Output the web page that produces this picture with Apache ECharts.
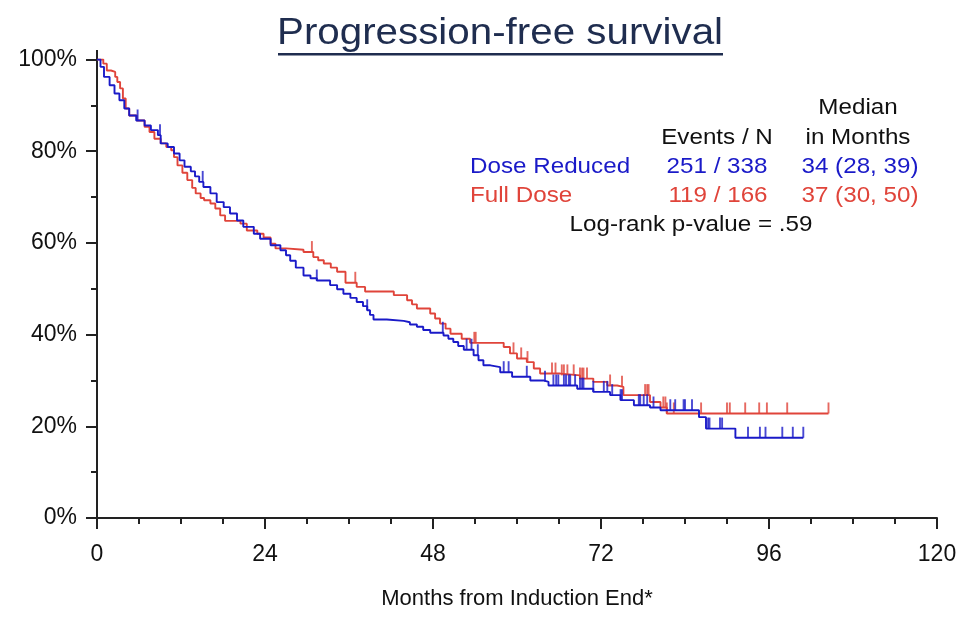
<!DOCTYPE html>
<html>
<head>
<meta charset="utf-8">
<script src="https://cdn.jsdelivr.net/npm/echarts@6/dist/echarts.min.js"></script>
<style>
html,body{margin:0;padding:0;background:#fff;}
#c{width:968px;height:630px;}
</style>
</head>
<body>
<div id="c"></div>
<script>
// ---- data (months, % progression-free) ----
const reducedSteps = [[0,100],[0.5,98.4],[1.0,96.2],[1.8,94.4],[2.5,92.6],[3.2,91.1],[3.9,89.3],[4.6,87.8],[5.6,86.7],[6.8,85.6],[7.7,84.6],[8.7,83.5],[9.1,81.7],[10.1,80.9],[11.0,79.5],[11.8,78.0],[12.5,76.6],[13.4,75.6],[14.0,74.5],[14.6,73.3],[15.2,72.2],[16.2,70.8],[17.1,68.9],[18.1,67.8],[19.0,66.4],[20.0,64.9],[20.9,63.5],[22.4,62.0],[23.3,60.9],[24.8,59.5],[26.2,58.4],[27.0,57.3],[27.6,56.1],[28.4,54.6],[29.5,52.9],[30.5,52.3],[31.4,51.8],[33.3,50.8],[34.3,49.9],[35.2,48.9],[36.2,48.0],[37.1,47.1],[38.0,46.2],[38.6,45.3],[39.0,44.3],[39.5,43.3],[41.4,43.0],[43.8,42.7],[44.7,42.2],[45.7,41.7],[46.6,41.0],[47.6,40.4],[49.5,39.8],[50.2,39.1],[50.9,38.4],[51.6,37.5],[52.4,36.7],[53.8,35.5],[54.5,34.4],[55.2,33.3],[56.2,32.9],[57.6,31.8],[59.3,30.8],[61.9,30.0],[63.8,29.7],[64.5,28.9],[68.6,28.2],[70.9,27.5],[73.3,26.8],[74.8,25.7],[76.7,24.6],[79.0,24.1],[80.5,23.5],[86.0,22.0],[87.0,19.5],[91.2,17.5],[100.9,17.5]];
const fullSteps = [[0,100],[0.9,99.1],[1.4,97.6],[2.0,97.3],[2.6,96.2],[2.9,95.1],[3.3,93.7],[3.7,91.5],[4.1,89.3],[4.6,87.8],[5.7,86.7],[6.8,85.3],[7.5,84.2],[8.2,82.7],[9.1,81.7],[9.9,80.9],[10.6,80.2],[11.0,78.7],[11.5,76.9],[12.2,75.3],[12.9,73.7],[13.6,72.0],[14.1,70.8],[14.8,69.8],[15.3,69.3],[16.2,68.6],[16.9,67.5],[17.6,66.0],[18.3,64.8],[20.5,64.2],[21.4,62.7],[22.9,62.0],[23.8,61.2],[24.8,59.8],[25.5,58.8],[27.0,58.5],[29.5,58.0],[30.9,56.9],[31.6,56.2],[32.4,55.5],[33.4,54.6],[34.3,53.7],[35.5,51.3],[37.1,50.4],[38.3,49.4],[42.4,48.6],[44.3,47.5],[45.0,46.6],[45.7,45.7],[47.6,44.6],[48.3,43.5],[49.0,42.4],[49.8,41.3],[50.5,40.2],[52.1,39.1],[53.3,38.2],[58.1,37.3],[59.0,35.9],[60.0,34.8],[61.4,34.0],[62.4,32.6],[63.3,31.5],[66.2,31.1],[69.0,30.4],[70.9,29.7],[72.9,28.9],[74.3,28.6],[75.2,26.8],[79.0,25.3],[80.5,24.1],[81.4,22.8],[104.5,22.8]];
const reducedCensored = [5.8,9.0,15.1,31.4,38.6,49.4,52.8,53.5,54.4,58.1,58.8,61.4,64.0,65.2,65.6,65.9,66.7,67.0,67.4,67.6,68.3,69.0,69.3,69.5,70.9,72.4,72.9,73.6,74.8,75.0,77.4,77.6,78.1,78.6,79.5,81.9,82.6,83.8,84.0,85.0,87.3,87.5,89.0,89.3,93.0,94.7,95.5,97.9,99.4,100.9];
const fullCensored = [30.7,36.9,53.9,54.1,59.5,60.6,61.5,65.0,65.5,66.4,66.7,67.2,68.1,69.0,69.3,69.5,70.0,73.3,75.0,78.3,78.6,78.8,80.9,81.2,81.4,82.4,86.3,90.0,90.4,92.6,94.6,95.7,98.6,104.5];
const xTicks = [0,24,48,72,96,120];
const yTicks = [0,20,40,60,80,100];
const groupNames = ['Dose Reduced','Full Dose'];
const eventsN = ['251 / 338','119 / 166'];
const medians = ['34 (28, 39)','37 (30, 50)'];
const pValueText = 'Log-rank p-value = .59';
const titleText = 'Progression-free survival';

const BLUE = '#1a1ac8', RED = '#e0443a';
const FONT = '"Liberation Sans", Arial, Helvetica, sans-serif';

function survAt(steps, t){
  let v = steps[0][1];
  for (const s of steps){ if (s[0] <= t + 1e-9) v = s[1]; else break; }
  return v;
}
const reducedMarks = reducedCensored.map(t => [t, survAt(reducedSteps, t)]);
const fullMarks = fullCensored.map(t => [t, survAt(fullSteps, t)]);

const GL = 97, GT = 59.5, GR = 31, GB = 112;

function txt(x, y, s, color, align, size, sx){
  return {type:'text', x:x, y:y, scaleX: sx || 1.1, z:10,
    style:{text:s, fill:color, font: (size||22)+'px '+FONT,
      textAlign:align, align:align, textVerticalAlign:'middle', verticalAlign:'middle'}};
}

const chart = echarts.init(document.getElementById('c'), null, {renderer:'canvas'});
chart.setOption({
  animation:false,
  backgroundColor:'#fff',
  grid:{left:GL, top:GT, right:GR, bottom:GB},
  xAxis:{
    type:'value', min:0, max:120, interval:24,
    name:'Months from Induction End*', nameLocation:'middle', nameGap:70,
    nameTextStyle:{fontSize:22, color:'#111', fontFamily:FONT},
    axisLine:{show:true, onZero:false, lineStyle:{color:'#222', width:2}},
    axisTick:{show:true, length:11, lineStyle:{color:'#222', width:2}},
    minorTick:{show:true, splitNumber:4, length:6, lineStyle:{color:'#222', width:2}},
    axisLabel:{fontSize:23, color:'#111', fontFamily:FONT, margin:25,
      formatter: v => xTicks.includes(v) ? String(v) : ''},
    splitLine:{show:false}
  },
  yAxis:{
    type:'value', min:0, max:100, interval:20,
    axisLine:{show:true, lineStyle:{color:'#222', width:2}},
    axisTick:{show:true, length:11, lineStyle:{color:'#222', width:2}},
    minorTick:{show:true, splitNumber:2, length:6, lineStyle:{color:'#222', width:2}},
    axisLabel:{fontSize:23, color:'#111', fontFamily:FONT, margin:20,
      formatter: v => yTicks.includes(v) ? v + '%' : ''},
    splitLine:{show:false}
  },
  series:[
    {name:groupNames[1], type:'line', step:'end', data:fullSteps, showSymbol:false, symbol:'none',
      lineStyle:{color:RED, width:1.9}, z:3},
    {name:groupNames[0], type:'line', step:'end', data:reducedSteps, showSymbol:false, symbol:'none',
      lineStyle:{color:BLUE, width:1.9}, z:4},
    {type:'scatter', data:fullMarks, symbol:'rect', symbolSize:[1.9,11], symbolOffset:[0,-5.5],
      itemStyle:{color:RED}, z:3},
    {type:'scatter', data:reducedMarks, symbol:'rect', symbolSize:[1.9,11], symbolOffset:[0,-5.5],
      itemStyle:{color:BLUE}, z:4}
  ],
  graphic:[
    {type:'line', shape:{x1:GL, y1:50, x2:GL, y2:GT+1}, style:{stroke:'#222', lineWidth:2}},
    txt(500, 34, titleText, '#1f2d4f', 'center', 37, 1.09),
    {type:'rect', shape:{x:278, y:53, width:445, height:2.5}, style:{fill:'#1f2d4f'}},
    txt(858, 108, 'Median', '#111', 'center'),
    txt(858, 138, 'in Months', '#111', 'center'),
    txt(717, 138, 'Events / N', '#111', 'center'),
    txt(470, 167, groupNames[0], BLUE, 'left'),
    txt(717, 167, eventsN[0], BLUE, 'center'),
    txt(860, 167, medians[0], BLUE, 'center'),
    txt(470, 196, groupNames[1], RED, 'left'),
    txt(718, 196, eventsN[1], RED, 'center'),
    txt(860, 196, medians[1], RED, 'center'),
    txt(691, 225, pValueText, '#111', 'center')
  ]
});
</script>
</body>
</html>
